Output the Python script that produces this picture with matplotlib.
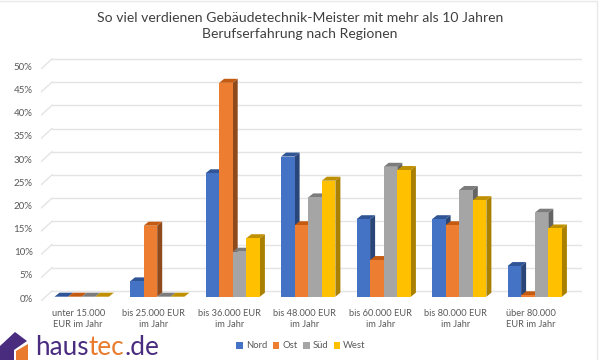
import matplotlib
matplotlib.use('Agg')
import matplotlib.pyplot as plt
from matplotlib.patches import Polygon
from matplotlib.transforms import ScaledTranslation

plt.rcParams['font.family'] = ['Lato', 'DejaVu Sans']

categories = ['unter 15.000\nEUR im Jahr', 'bis 25.000 EUR\nim Jahr', 'bis 36.000 EUR\nim Jahr',
              'bis 48.000 EUR\nim Jahr', 'bis 60.000 EUR\nim Jahr', 'bis 80.000 EUR\nim Jahr',
              'über 80.000\nEUR im Jahr']
nord = [0, 3.3, 26.6, 30.2, 16.7, 16.7, 6.6]
ost = [0, 15.3, 46.1, 15.4, 7.9, 15.4, 0.3]
sued = [0, 0, 9.7, 21.4, 28.0, 23.0, 18.1]
west = [0, 0, 12.6, 25.0, 27.3, 20.8, 14.7]
yticks = [0, 5, 10, 15, 20, 25, 30, 35, 40, 45, 50]

names = ['Nord', 'Ost', 'Süd', 'West']
series = [nord, ost, sued, west]
front = ['#4472C4', '#ED7D31', '#A5A5A5', '#FFC000']
top = ['#2F5597', '#C55A11', '#7C7C7C', '#BF9000']
side = ['#2A4678', '#8F4A1C', '#646464', '#AA8000']

W, H = 600, 360
fig = plt.figure(figsize=(W / 100, H / 100), dpi=100)

# pixel frame of the axes: x 41..582, y 301..55
ax = fig.add_axes([41 / W, 1 - 301 / H, 541 / W, 246 / H])
px_x = 75.5   # px per group
px_y = 4.64   # px per percent
x0 = -(81.7 - 41) / px_x
ax.set_xlim(x0, x0 + 541 / px_x)
ax.set_ylim(-4.3 / px_y, -4.3 / px_y + 246 / px_y)
ax.patch.set_alpha(0)
for s in ax.spines.values():
    s.set_visible(False)

dx = 5 / px_x
dy = 4 / px_y
bw = 13.6 / px_x
gx = 11 / px_x    # wall depth
gy = 10 / px_y

grid = '#E4E4E4'
xr = x0 + 541 / px_x
for t in yticks:
    yb = t + 5.8 / px_y
    ax.plot([x0 + gx, xr], [yb, yb], color=grid, lw=1, zorder=1)
    ax.plot([x0, x0 + gx], [yb - gy, yb], color=grid, lw=1, zorder=1)

z = 2
for g in range(len(categories)):
    for i, vals in enumerate(series):
        v = vals[g]
        l = g + (i - 2) * bw
        r = l + bw
        ax.add_patch(Polygon([(r, 0), (r + dx, dy), (r + dx, v + dy), (r, v)], color=side[i], lw=0, zorder=z))
        ax.add_patch(Polygon([(l, v), (l + dx, v + dy), (r + dx, v + dy), (r, v)], color=top[i], lw=0, zorder=z))
        ax.bar(l, v, bw, align='edge', color=front[i], lw=0, zorder=z, label=names[i] if g == 0 else None)
        z += 1

ax.set_yticks(yticks)
ax.set_yticklabels([str(t) + '%' for t in yticks], fontsize=7, color='#595959')
ax.set_xticks(range(len(categories)))
ax.set_xticklabels(categories, fontsize=6.7, color='#595959', linespacing=1.35)
ax.tick_params(axis='both', length=0)
ax.tick_params(axis='y', pad=6)
ax.tick_params(axis='x', pad=5.5)
for lab in ax.get_yticklabels():
    lab.set_transform(lab.get_transform() + ScaledTranslation(0, -1.5 / 100, fig.dpi_scale_trans))
for lab in ax.get_xticklabels():
    lab.set_transform(lab.get_transform() + ScaledTranslation(-3.5 / 100, 0, fig.dpi_scale_trans))

fig.text(0.5, 1 - 26 / H, 'So viel verdienen Gebäudetechnik-Meister mit mehr als 10 Jahren\nBerufserfahrung nach Regionen',
         ha='center', va='center', fontsize=10.05, color='#404040', linespacing=1.35)

ax.legend(loc='center', bbox_to_anchor=((301 - 41) / 541, (301 - 346) / 246), ncol=4, frameon=False,
          fontsize=6.8, labelcolor='#595959', handlelength=0.7, handleheight=0.7, handletextpad=0.3, columnspacing=0.6)

# logo and the faint chart border
logo = fig.add_axes([0, 0, 1, 1])
logo.set_xlim(0, W)
logo.set_ylim(H, 0)
logo.axis('off')
logo.patch.set_alpha(0)
logo.plot([0, 597, 597], [0.5, 0.5, 360], color='#E8E8E8', lw=1)
purple = '#4A2C7F'
orange = '#E87B2E'
logo.add_patch(Polygon([(0, 346), (15, 332), (27, 341), (14, 350), (14, 360), (0, 360)], color=purple, lw=0))
logo.add_patch(Polygon([(16, 351), (28, 344), (28, 360), (16, 360)], color=orange, lw=0))
t1 = logo.text(35, 355, 'haus', fontsize=18.8, color=purple, va='baseline')
t2 = logo.annotate('tec', xy=(1, 0), xycoords=t1, va='bottom', fontsize=18.8, color=orange)
logo.annotate('.de', xy=(1, 0), xycoords=t2, va='bottom', fontsize=18.8, color=purple)

fig.savefig('out.png', dpi=100)
